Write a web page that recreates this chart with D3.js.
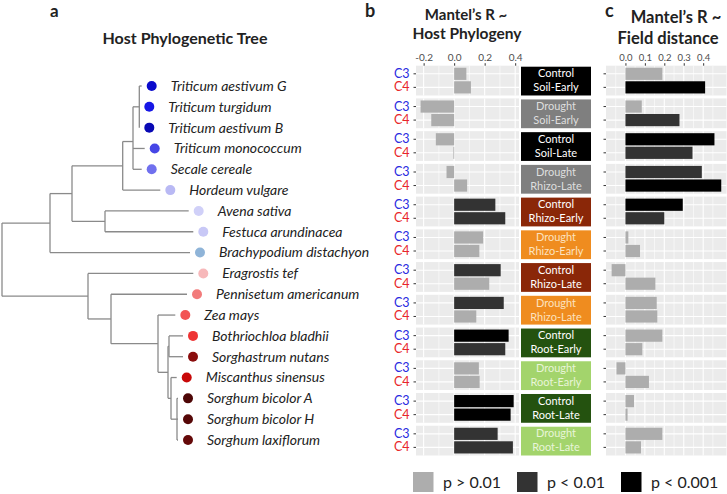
<!DOCTYPE html>
<html><head><meta charset="utf-8">
<script src="https://cdn.jsdelivr.net/npm/d3@7"></script>
<style>
body{margin:0;background:#fff}
svg{display:block;font-family:Lato,"Open Sans",sans-serif}
</style>
</head><body>
<svg id="chart" width="727" height="494"></svg>
<script>
// ---------------- DATA ----------------
const species = ["Triticum aestivum G","Triticum turgidum","Triticum aestivum B","Triticum monococcum",
  "Secale cereale","Hordeum vulgare","Avena sativa","Festuca arundinacea","Brachypodium distachyon",
  "Eragrostis tef","Pennisetum americanum","Zea mays","Bothriochloa bladhii","Sorghastrum nutans",
  "Miscanthus sinensus","Sorghum bicolor A","Sorghum bicolor H","Sorghum laxiflorum"];
const speciesColors = ["#0a0acc","#1717e6","#0808b4","#4646e6","#7070ee","#b9b9f4","#d0d0f8","#c8c8f6",
  "#8fb4d8","#f7b8ba","#f27b7b","#f25454","#ee3434","#8a0d0d","#c80909","#4d0606","#560707","#650909"];
// phylogeny: branch lengths (len) from parent
const tree = {len:0, children:[
  {len:48, children:[
    {len:22, children:[
      {len:50.7, children:[
        {len:10.3, children:[
          {len:6.3, children:[
            {name:"Triticum aestivum G", len:2.4},
            {name:"Triticum turgidum", len:0},
            {name:"Triticum aestivum B", len:0}]},
          {name:"Triticum monococcum", len:11.7},
          {name:"Secale cereale", len:8.7}]},
        {name:"Hordeum vulgare", len:37.6}]},
      {len:33, children:[
        {name:"Avena sativa", len:83.7},
        {name:"Festuca arundinacea", len:88.3}]}]},
    {name:"Brachypodium distachyon", len:140}]},
  {len:86, children:[
    {name:"Eragrostis tef", len:105.3},
    {len:23, children:[
      {name:"Pennisetum americanum", len:76},
      {len:47, children:[
        {name:"Zea mays", len:17.3},
        {len:10, children:[
          {len:1, children:[
            {name:"Bothriochloa bladhii", len:14},
            {name:"Sorghastrum nutans", len:14}]},
          {len:3, children:[
            {name:"Miscanthus sinensus", len:5.7},
            {len:6, children:[
              {name:"Sorghum bicolor A", len:1},
              {name:"Sorghum bicolor H", len:1},
              {name:"Sorghum laxiflorum", len:1}]}]}]}]}]}]}]};

const groups = ["C3","C4"];
const groupColors = ["#2a2ae0","#e8262a"];
const stripTreatment = ["Control","Drought","Control","Drought","Control","Drought",
  "Control","Drought","Control","Drought","Control","Drought"];
const stripCompartment = ["Soil-Early","Soil-Early","Soil-Late","Rhizo-Late","Rhizo-Early","Rhizo-Early",
  "Rhizo-Late","Rhizo-Late","Root-Early","Root-Early","Root-Late","Root-Late"];
const stripFill = ["#000000","#7f7f7f","#000000","#7f7f7f","#8a2708","#ef8c1f",
  "#8a2708","#ef8c1f","#24520f","#a3d46c","#24520f","#a3d46c"];
const stripTextColor = ["#ffffff","#dedede","#ffffff","#dedede","#ffffff","#fce2bf",
  "#ffffff","#fce2bf","#ffffff","#e8f5d8","#ffffff","#e8f5d8"];

// Mantel's R ~ Host Phylogeny  [C3, C4]
const phyloR = [[0.08,0.11],[-0.22,-0.15],[-0.12,-0.005],[-0.05,0.085],[0.27,0.335],[0.19,0.165],
  [0.305,0.23],[0.325,0.145],[0.357,0.335],[0.162,0.167],[0.39,0.37],[0.285,0.385]];
// significance class: 0 = p > 0.01, 1 = p < 0.01, 2 = p < 0.001
const phyloP = [[0,0],[0,0],[0,0],[0,0],[1,1],[0,0],[1,0],[1,0],[2,1],[0,0],[2,2],[1,1]];
// Mantel's R ~ Field distance  [C3, C4]
const fieldR = [[0.19,0.41],[0.084,0.278],[0.458,0.345],[0.393,0.493],[0.295,0.2],[0.015,0.075],
  [-0.071,0.154],[0.161,0.164],[0.19,0.087],[-0.046,0.121],[0.044,0.011],[0.19,0.08]];
const fieldP = [[0,2],[0,1],[2,1],[1,2],[2,1],[0,0],[0,0],[0,0],[0,0],[0,0],[0,0],[0,0]];

const phyloTicks = [-0.2,0,0.2,0.4];
const phyloTickLabels = ["-0.2","0.0","0.2","0.4"];
const phyloMinor = [-0.1,0.1,0.3];
const fieldTicks = [0,0.1,0.2,0.3,0.4];
const fieldTickLabels = ["0.0","0.1","0.2","0.3","0.4"];
const fieldMinor = [-0.05,0.05,0.15,0.25,0.35,0.45];
const legendLabels = ["p > 0.01","p < 0.01","p < 0.001"];
const pColors = ["#adadad","#333333","#000000"];

// ---------------- DRAW ----------------
const svg = d3.select("#chart");

// ---- Panel a: tree ----
svg.append("text").attr("x",50).attr("y",17).attr("font-size",17).attr("font-weight","bold").attr("fill","#222").text("a");
svg.append("text").attr("x",185).attr("y",44).attr("text-anchor","middle").attr("font-size",16)
  .attr("font-weight","bold").attr("fill","#222").text("Host Phylogenetic Tree");

const root = d3.hierarchy(tree);
root.eachBefore(n => { n.dist = (n.parent ? n.parent.dist : 0) + n.data.len; });
const tx = d3.scaleLinear().domain([0,200]).range([2,202]);
const ty = d3.scaleLinear().domain([0,species.length-1]).range([86,440]);
root.eachAfter(n => {
  if (!n.children) n.yv = ty(species.indexOf(n.data.name));
  else n.yv = d3.mean(n.children, c => c.yv);
});
const tg = svg.append("g").attr("stroke","#8a8a8a").attr("stroke-width",1.3).attr("fill","none");
root.descendants().forEach(n => {
  if (n.parent) tg.append("line").attr("x1",tx(n.parent.dist)).attr("x2",tx(n.dist)).attr("y1",n.yv).attr("y2",n.yv);
  if (n.children) tg.append("line").attr("x1",tx(n.dist)).attr("x2",tx(n.dist))
     .attr("y1",d3.min(n.children,c=>c.yv)).attr("y2",d3.max(n.children,c=>c.yv));
});
const leafG = svg.append("g");
root.leaves().forEach(n => {
  const i = species.indexOf(n.data.name);
  const cx = tx(n.dist + 10);
  leafG.append("circle").attr("cx",cx).attr("cy",n.yv).attr("r",5).attr("fill",speciesColors[i]);
  leafG.append("text").attr("x",cx+19).attr("y",n.yv).attr("dy","0.35em").attr("font-size",14)
    .attr("font-style","italic").attr("fill","#222").text(n.data.name);
});

// ---- facet layout ----
const panelBand = d3.scaleBand().domain(d3.range(12)).range([65.7,455.5]).paddingInner(0.09).paddingOuter(0);

function facetColumn(xScale, values, sig, ticks, tickLabels, minor, showY) {
  const g = svg.append("g");
  const [x0,x1] = xScale.range();
  values.forEach((vals, i) => {
    const top = panelBand(i), h = panelBand.bandwidth();
    const yb = d3.scaleBand().domain(groups).range([top, top+h]).paddingInner(0.1).paddingOuter(0.15);
    const pg = g.append("g");
    pg.append("rect").attr("x",x0).attr("y",top).attr("width",x1-x0).attr("height",h).attr("fill","#ebebeb");
    minor.filter(v => xScale(v) > x0 && xScale(v) < x1).forEach(v =>
      pg.append("line").attr("x1",xScale(v)).attr("x2",xScale(v)).attr("y1",top).attr("y2",top+h)
        .attr("stroke","#fff").attr("stroke-width",0.6));
    ticks.forEach(v =>
      pg.append("line").attr("x1",xScale(v)).attr("x2",xScale(v)).attr("y1",top).attr("y2",top+h)
        .attr("stroke","#fff").attr("stroke-width",1.1));
    groups.forEach(gr =>
      pg.append("line").attr("x1",x0).attr("x2",x1).attr("y1",yb(gr)+yb.bandwidth()/2).attr("y2",yb(gr)+yb.bandwidth()/2)
        .attr("stroke","#fff").attr("stroke-width",1.1));
    groups.forEach((gr, j) => {
      const v = vals[j];
      pg.append("rect").attr("x",xScale(Math.min(0,v))).attr("y",yb(gr))
        .attr("width",Math.max(0.8, Math.abs(xScale(v)-xScale(0)))).attr("height",yb.bandwidth())
        .attr("fill",pColors[sig[i][j]]);
    });
    const ax = pg.append("g").attr("transform",`translate(${x0},0)`)
      .call(d3.axisLeft(yb).tickSize(2.5).tickPadding(4));
    ax.select(".domain").remove();
    ax.selectAll(".tick line").attr("stroke","#333");
    if (showY) {
      ax.selectAll(".tick text").attr("font-size",12.5).attr("font-family","Lato,sans-serif")
        .attr("fill",(d,k)=>groupColors[k]);
    } else ax.selectAll(".tick text").remove();
  });
  const axTop = g.append("g").attr("transform",`translate(0,${panelBand(0)})`)
    .call(d3.axisTop(xScale).tickValues(ticks).tickSize(2.5).tickPadding(2).tickFormat((d,i)=>tickLabels[i]));
  axTop.select(".domain").remove();
  axTop.selectAll(".tick line").attr("stroke","#333");
  axTop.selectAll(".tick text").attr("font-size",10).attr("font-family","Lato,sans-serif").attr("fill","#4d4d4d");
  return axTop;
}

// ---- Panel b ----
const xb = d3.scaleLinear().domain([-0.25,0.425]).range([416,519]);
facetColumn(xb, phyloR, phyloP, phyloTicks, phyloTickLabels, phyloMinor, true);
svg.append("text").attr("x",365).attr("y",17).attr("font-size",18).attr("font-weight","bold").attr("fill","#222").text("b");
svg.append("text").attr("x",466).attr("y",20).attr("text-anchor","middle").attr("font-size",15).attr("font-weight","bold").attr("fill","#222").text("Mantel’s R ~");
svg.append("text").attr("x",467).attr("y",39).attr("text-anchor","middle").attr("font-size",15.5).attr("font-weight","bold").attr("fill","#222").text("Host Phylogeny");

// ---- Strips ----
const sg = svg.append("g");
stripTreatment.forEach((t, i) => {
  const top = panelBand(i), h = panelBand.bandwidth();
  sg.append("rect").attr("x",521).attr("y",top+1).attr("width",70).attr("height",h-1).attr("fill",stripFill[i]);
  sg.append("text").attr("x",556).attr("y",top+h/2-7).attr("dy","0.35em").attr("text-anchor","middle")
    .attr("font-size",11).attr("fill",stripTextColor[i]).text(t);
  sg.append("text").attr("x",556).attr("y",top+h/2+7).attr("dy","0.35em").attr("text-anchor","middle")
    .attr("font-size",11).attr("fill",stripTextColor[i]).text(stripCompartment[i]);
});

// ---- Panel c ----
const xc = d3.scaleLinear().domain([-0.1,0.52]).range([606,726.5]);
const axc = facetColumn(xc, fieldR, fieldP, fieldTicks, fieldTickLabels, fieldMinor, false);
axc.selectAll(".tick text").attr("font-size",9.5);
svg.append("text").attr("x",605).attr("y",17).attr("font-size",18).attr("font-weight","bold").attr("fill","#222").text("c");
svg.append("text").attr("x",676).attr("y",23).attr("text-anchor","middle").attr("font-size",16.5).attr("font-weight","bold").attr("fill","#222").text("Mantel’s R ~");
svg.append("text").attr("x",668).attr("y",44).attr("text-anchor","middle").attr("font-size",16.5).attr("font-weight","bold").attr("fill","#222").text("Field distance");

// ---- Legend ----
const legX = d3.scaleOrdinal().domain(legendLabels).range([413,517,621]);
const lg = svg.append("g");
legendLabels.forEach((l, i) => {
  lg.append("rect").attr("x",legX(l)).attr("y",472).attr("width",20.5).attr("height",20).attr("fill",pColors[i]);
  lg.append("text").attr("x",legX(l)+30).attr("y",488).attr("font-size",16).attr("fill","#222").text(l);
});
</script>
</body></html>
